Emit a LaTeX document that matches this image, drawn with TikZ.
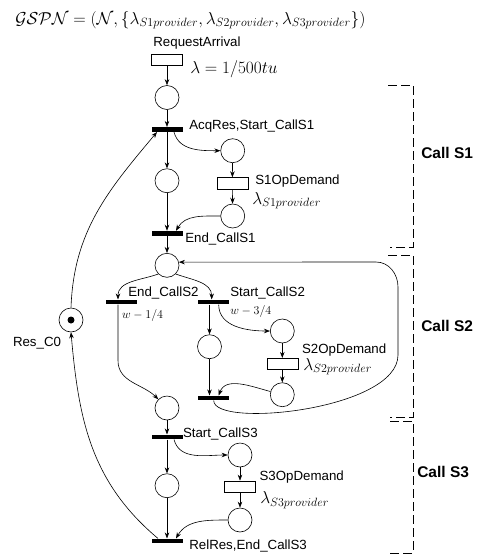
\documentclass[tikz,border=0pt]{standalone}
\usepackage{amsmath, amssymb}
\usepackage{fontspec}
\setmainfont{Liberation Sans}
\usepackage{tikz}
\usetikzlibrary{arrows.meta, positioning}

\begin{document}
\begin{tikzpicture}[x=1pt, y=1pt, line width=0.6pt,
    place/.style={circle, draw, minimum size=24pt, inner sep=0pt},
    timed/.style={draw, minimum width=31pt, minimum height=11.5pt, inner sep=0pt},
    immed/.style={fill=black, minimum width=31pt, minimum height=4.5pt, inner sep=0pt},
    token/.style={circle, fill=black, minimum size=7pt, inner sep=0pt},
    arr/.style={-{Stealth[length=6pt, width=4.5pt]}},
    bracket/.style={dash pattern=on 9pt off 4pt},
    lbl/.style={font=\fontsize{13.3}{15}\selectfont, inner sep=0pt, anchor=west},
    mlbl/.style={font=\fontsize{18}{20}\selectfont, inner sep=0pt, anchor=west},
    wlbl/.style={font=\fontsize{12}{14}\selectfont, inner sep=0pt, anchor=west},
    grp/.style={font=\fontsize{15.5}{18}\selectfont\bfseries, inner sep=0pt, anchor=west}
  ]
    \useasboundingbox (0,0) rectangle (486,-558);

    % title
    \node[mlbl, font=\fontsize{18.5}{21}\selectfont] (title) at (15,-20) {$\mathcal{GSPN} = (\mathcal{N}, \{\lambda_{S1provider}, \lambda_{S2provider}, \lambda_{S3provider}\})$};

    % request arrival
    \node[timed] (ra) at (167,-60) {};
    \node[lbl, anchor=center] (ralbl) at (197,-43) {RequestArrival};
    \node[mlbl] (rate) at (190,-69) {$\lambda = 1/500tu$};
    \node[place] (p1) at (167,-97.5) {};

    % call S1
    \node[immed] (t1) at (167,-129.5) {};
    \node[lbl] (t1lbl) at (189,-126) {AcqRes,Start\_CallS1};
    \node[place] (s1a) at (232.7,-150.7) {};
    \node[place] (p2) at (167,-180.7) {};
    \node[timed] (d1) at (232.3,-183.3) {};
    \node[lbl] (d1lbl) at (255,-180.7) {S1OpDemand};
    \node[mlbl] (d1rate) at (252,-200.7) {$\lambda_{S1provider}$};
    \node[place] (s1b) at (232.7,-216) {};
    \node[immed] (t2) at (167,-233.3) {};
    \node[lbl] (t2lbl) at (185,-238.7) {End\_CallS1};
    \node[place] (p3) at (167,-265.3) {};

    % resource
    \node[place] (res) at (71,-320) {};
    \node[token] (tok) at (res) {};
    \node[lbl] (reslbl) at (12.7,-342.7) {Res\_C0};

    % call S2
    \node[immed] (te2) at (121,-302) {};
    \node[lbl] (te2lbl) at (128,-292.7) {End\_CallS2};
    \node[wlbl] (w1) at (121.7,-315.7) {$w - 1/4$};
    \node[immed] (ts2) at (213.7,-302) {};
    \node[lbl] (ts2lbl) at (230,-292.7) {Start\_CallS2};
    \node[wlbl] (w2) at (230,-311.7) {$w - 3/4$};
    \node[place] (s2c) at (209.5,-346.7) {};
    \node[place] (s2a) at (282.3,-331) {};
    \node[timed] (d2) at (282.3,-364) {};
    \node[lbl] (d2lbl) at (301.7,-350) {S2OpDemand};
    \node[mlbl] (d2rate) at (303,-366.7) {$\lambda_{S2provider}$};
    \node[place] (s2b) at (282.3,-394.7) {};
    \node[immed] (tj2) at (213.7,-398) {};
    \node[place] (p4) at (167,-408) {};

    % call S3
    \node[immed] (t3) at (167,-437) {};
    \node[lbl] (t3lbl) at (182.7,-434.3) {Start\_CallS3};
    \node[place] (s3a) at (240,-455) {};
    \node[place] (p5) at (167,-485.7) {};
    \node[timed] (d3) at (240,-486.7) {};
    \node[lbl] (d3lbl) at (259.3,-477.3) {S3OpDemand};
    \node[mlbl] (d3rate) at (260,-500) {$\lambda_{S3provider}$};
    \node[place] (s3b) at (240,-520) {};
    \node[immed] (t4) at (167,-541) {};
    \node[lbl] (t4lbl) at (189,-546) {RelRes,End\_CallS3};

    % groups
    \node[grp] (g1) at (421,-152.7) {Call S1};
    \node[grp] (g2) at (421,-326) {Call S2};
    \node[grp] (g3) at (417,-471.7) {Call S3};
    \draw[bracket] (388,-85) -- (413,-85) -- (413,-247) -- (390,-247);
    \draw[bracket] (388,-255) -- (413,-255) -- (413,-417) -- (390,-417);
    \draw[bracket] (390,-421) -- (413,-421) -- (413,-553) -- (390,-553);

    % arcs
    \draw[arr] (ra) -- (p1);
    \draw[arr] (p1) -- (t1);
    \draw[arr] (t1) -- (p2);
    \draw[arr] ([xshift=7pt]t1.south) to[out=-75, in=180] (s1a.west);
    \draw[arr] (s1a) -- (d1);
    \draw[arr] (d1) -- (s1b);
    \draw[arr] (s1b.west) to[out=180, in=60] ([xshift=9pt]t2.north);
    \draw[arr] (p2) -- (t2);
    \draw[arr] (t2) -- (p3);

    \draw[arr] (p3.south west) to[out=200, in=90] ([xshift=-3pt]te2.north);
    \draw[arr] (p3.south east) to[out=-20, in=90] ([xshift=-2pt]ts2.north);
    \draw[arr] ([xshift=-3pt]te2.south) -- ++(0,-56) to[out=-90, in=135] (p4.north west);
    \draw[arr] (ts2.south -| s2c) -- (s2c);
    \draw[arr] ([xshift=5pt]ts2.south) to[out=-90, in=180] (s2a.west);
    \draw[arr] (s2a) -- (d2);
    \draw[arr] (d2) -- (s2b);
    \draw[arr] (s2c) -- (s2c |- tj2.north);
    \draw[arr] (s2b.165) to[out=165, in=70] ([xshift=5pt]tj2.north);
    \draw[arr] (tj2.south) .. controls +(0,-28) and +(0,-55) .. (398,-355)
      -- (398,-287) to[out=90, in=0] (376,-262) -- (p3.15);

    \draw[arr] (p4) -- (t3);
    \draw[arr] (t3) -- (p5);
    \draw[arr] ([xshift=7pt]t3.south) to[out=-75, in=180] (s3a.west);
    \draw[arr] (s3a) -- (d3);
    \draw[arr] (d3) -- (s3b);
    \draw[arr] (s3b.west) to[out=180, in=60] ([xshift=9pt]t4.north);
    \draw[arr] (p5) -- (t4);

    \draw[arr] ([xshift=-9pt]t4.north) to[out=140, in=-85] (res.south);
    \draw[arr] (res.north) to[out=88, in=-130] ([xshift=-10pt]t1.south);
  \end{tikzpicture}
\end{document}
